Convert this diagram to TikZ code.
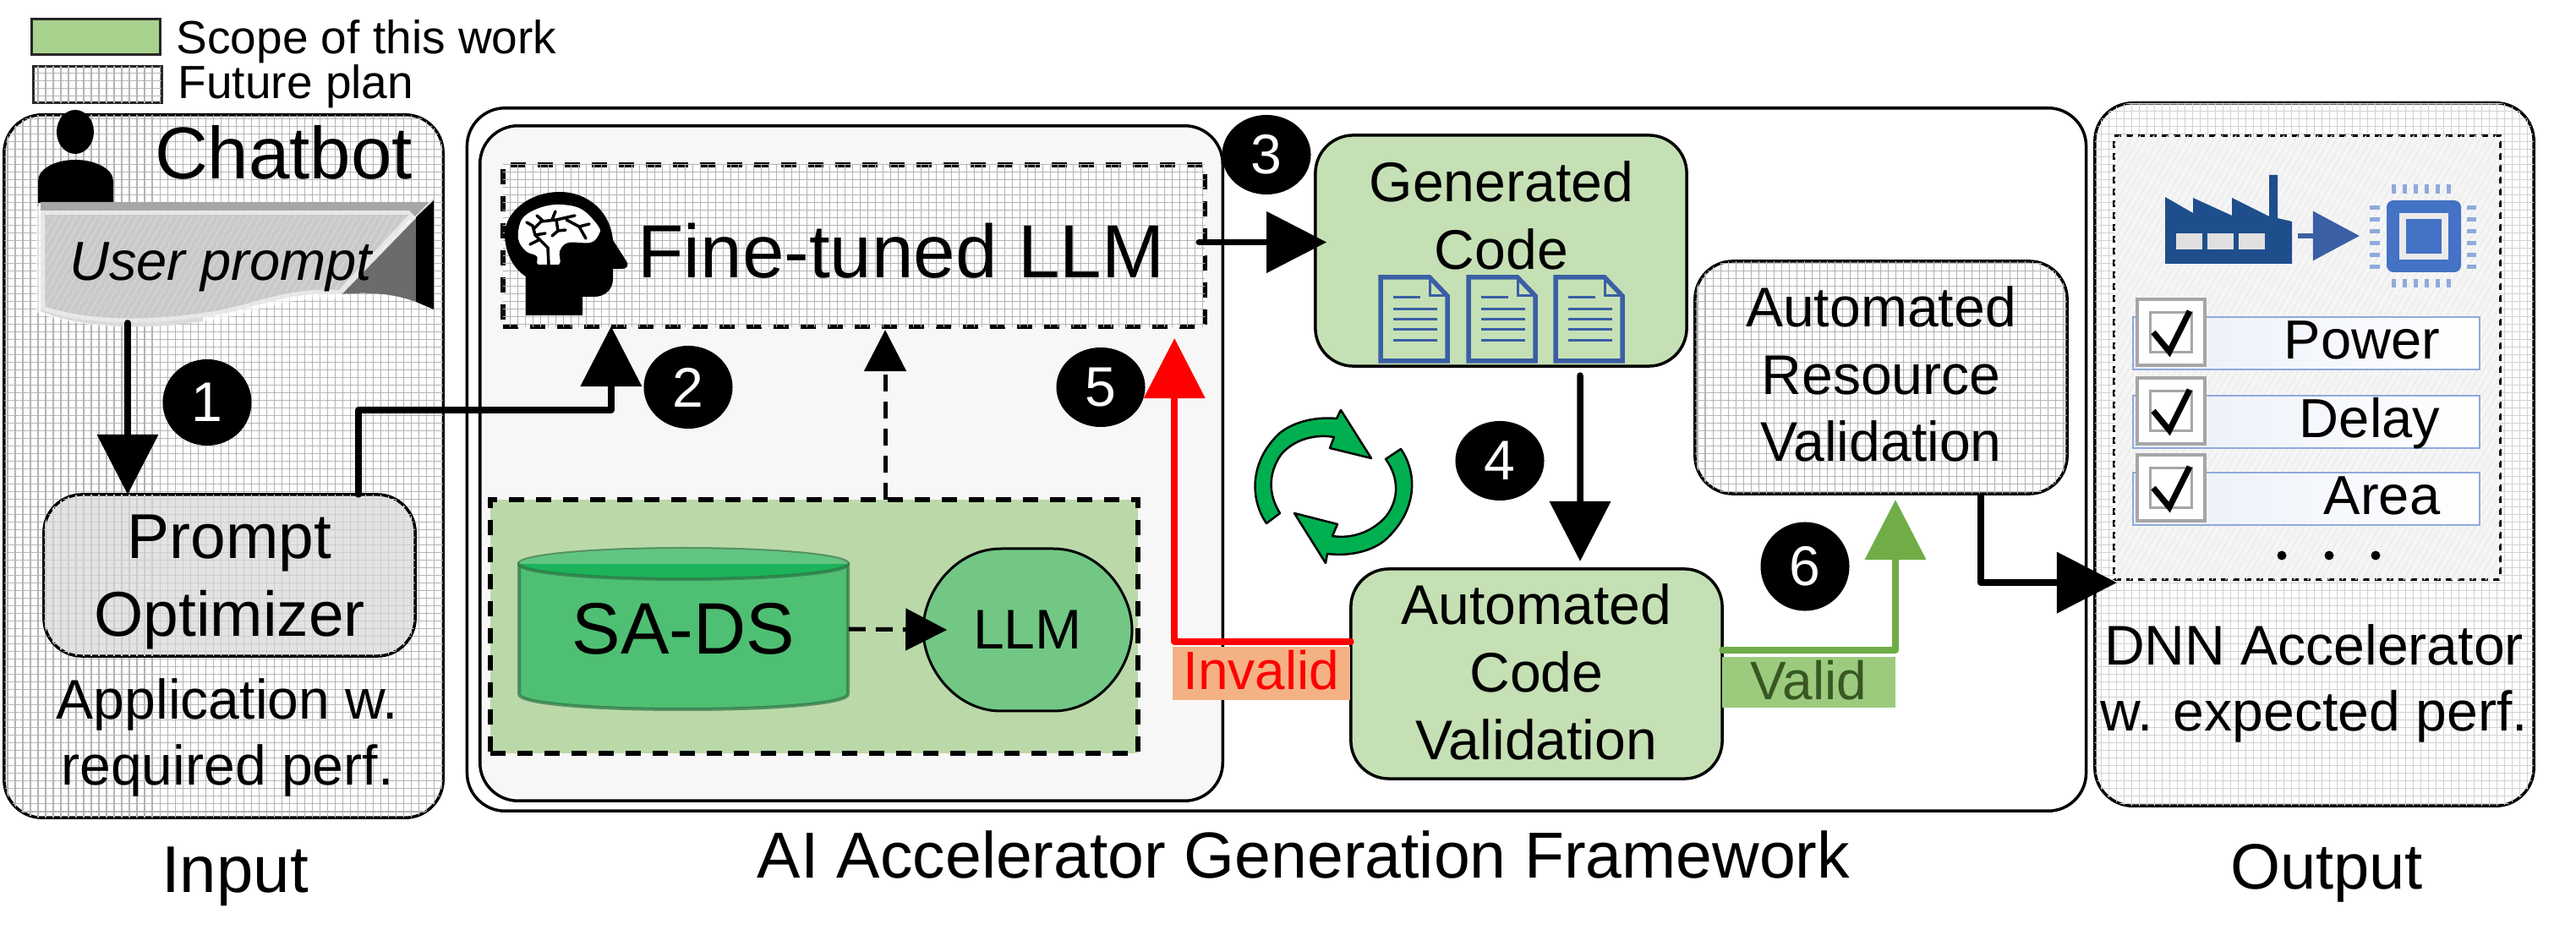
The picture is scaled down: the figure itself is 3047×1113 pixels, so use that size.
\documentclass[tikz,border=0pt]{standalone}
\usepackage{fontspec}
\setmainfont{Liberation Sans}
\usetikzlibrary{arrows.meta,patterns.meta,shapes.geometric}

\definecolor{scopegreen}{HTML}{C5E0B4}
\definecolor{legendgreen}{HTML}{A9D18E}
\definecolor{panelgreen}{HTML}{BBD9A8}
\definecolor{cylgreen}{HTML}{4FBF74}
\definecolor{cyldark}{HTML}{1DB35A}
\definecolor{llmgreen}{HTML}{72C785}
\definecolor{loopgreen}{HTML}{00B050}
\definecolor{okgreen}{HTML}{70AD47}
\definecolor{okfill}{HTML}{9CCB7E}
\definecolor{oktext}{HTML}{385723}
\definecolor{badfill}{HTML}{F4B183}
\definecolor{docblue}{HTML}{3A5FA5}
\definecolor{factoryblue}{HTML}{1F4E8C}
\definecolor{chipblue}{HTML}{4472C4}
\definecolor{pinblue}{HTML}{8FAADC}
\definecolor{gridgray}{HTML}{B4B4B4}
\definecolor{gridpale}{HTML}{D2D2D2}

\tikzset{
    gridfill/.style={postaction={pattern={Hatch[angle=0,distance=0.09cm,line width=0.012cm]},pattern color=#1}},
    gridfill/.default=gridgray,
    hatchfill/.style={postaction={pattern={Lines[angle=60,distance=0.07cm,line width=0.012cm]},pattern color=#1}},
    roundbox/.style={draw=black,line width=0.035cm,rounded corners=0.45cm,inner sep=0pt,outer sep=0pt,align=center},
    dashbox/.style={draw=black,line width=0.06cm,dash pattern=on 0.18cm off 0.14cm,inner sep=0pt,outer sep=0pt},
    flow/.style={line width=0.075cm,line join=round,line cap=round,-{Triangle[length=0.71cm,width=0.71cm]}},
    dashflow/.style={line width=0.05cm,dash pattern=on 0.2cm off 0.12cm,-{Triangle[length=0.49cm,width=0.49cm]}},
    badge/.style={ellipse,fill=black,text=white,inner sep=0pt,minimum width=1.05cm,font=\fontsize{18.8}{22}\selectfont},
    lbl/.style={inner sep=0pt,anchor=base},
    body/.style={font=\fontsize{18.8}{22.6}\selectfont},
}

\begin{document}
\begin{tikzpicture}[x=0.01cm,y=-0.01cm]
    \useasboundingbox (0,0) rectangle (3047,1113);

    \node[draw=black!85,line width=0.03cm,fill=legendgreen,minimum width=1.51cm,minimum height=0.42cm,inner sep=0pt] (legscope) at (113.5,43.5) {};
    \node[draw=black!85,line width=0.03cm,fill=white,gridfill,minimum width=1.51cm,minimum height=0.42cm,inner sep=0pt] (legplan) at (115.5,100) {};
    \node[lbl,anchor=base west,font=\fontsize{15.65}{18}\selectfont] (legscopetxt) at (208,64) {Scope of this work};
    \node[lbl,anchor=base west,font=\fontsize{15.65}{18}\selectfont] (legplantxt) at (210,117) {Future plan};

    \node[roundbox,fill=white,gridfill,minimum width=5.19cm,minimum height=8.31cm] (chatbot) at (264.5,551.5) {};
    \node[roundbox,fill=white,minimum width=19.14cm,minimum height=8.31cm] (framework) at (1510,543.5) {};
    \node[roundbox,fill=black!3,minimum width=8.78cm,minimum height=7.98cm] (llmpanel) at (1007,548) {};
    \node[roundbox,fill=white,gridfill=gridpale,minimum width=5.19cm,minimum height=8.31cm] (output) at (2737.5,537.5) {};

    \fill[black] (89,156) ellipse[x radius=22,y radius=26];
    \fill[black] (45,240) -- (45,214) .. controls (45,200) and (65,189) .. (89,189) .. controls (113,189) and (134,200) .. (134,214) -- (134,240) -- cycle;
    \node[lbl,font=\fontsize{24.75}{28}\selectfont] (chatbottxt) at (335.5,212) {Chatbot};

    \fill[black!35] (48,368) .. controls (90,386) and (160,392) .. (240,380) -- (240,360) -- (48,360) -- cycle;
    \path[fill=black!21,draw=white,draw opacity=.6,line width=0.1cm,hatchfill=black!12] (48,249) -- (495,249) -- (403,348) .. controls (340,345) and (310,362) .. (260,372) .. controls (180,386) and (100,385) .. (48,366) -- cycle;
    \fill[black!35] (48,239) -- (510,239) -- (492,257) -- (484,249) -- (48,249) -- cycle;
    \fill[black!58] (403,348) -- (492,257) -- (492,357) .. controls (465,347) and (435,345) .. (403,348) -- cycle;
    \draw[black!10,line width=0.02cm] (403,348) -- (513,235);
    \fill[black] (492,257) -- (513,237) -- (513,366) -- (492,357) -- cycle;
    \node[lbl,font=\fontsize{18.5}{22}\selectfont\itshape] (usertxt) at (261,332) {User prompt};
    \coordinate (bannerfoot) at (151,382);

    \node[roundbox,fill=black!11,gridfill=black!20,minimum width=4.39cm,minimum height=1.91cm,text depth=0pt,font=\fontsize{21.3}{26.2}\selectfont] (prompt) at (271.5,680.5) {Prompt\\Optimizer};
    \node[lbl,align=center,anchor=center,font=\fontsize{18.8}{22.2}\selectfont] (apptxt) at (269,872) {Application w.\\required perf.};

    \node[dashbox,fill=white,gridfill,minimum width=8.3cm,minimum height=1.91cm] (finetuned) at (1010,290.5) {};
    \fill[black] (622,373) -- (689,373) -- (689,351) -- (703,351) .. controls (716,351) and (725,342) .. (725,330) -- (725,318) -- (736,318) .. controls (742,318) and (744,313) .. (741,309) -- (725,284) .. controls (722,250) and (695,227) .. (662,227) .. controls (625,227) and (597,252) .. (597,277) .. controls (597,298) and (607,318) .. (622,327) -- cycle;
    \fill[white] plot[smooth cycle,tension=.6] coordinates {(637,313) (635,303) (622,297) (613,282) (617,260) (633,248) (658,242) (687,247) (708,268) (708,278) (698,287) (672,287) (662,297) (661,313)};
    \fill[black] (625,313) rectangle (690,325);
    \draw[line width=0.035cm,line cap=round,line join=round] (649,313) -- (648,293) -- (633,278) -- (630,267) -- (623,263) (633,278) -- (645,276) (627,289) -- (637,284) (632,270) -- (640,262) -- (658,260) -- (680,255) (635,255) -- (642,261) (657,250) -- (653,260) (658,260) -- (660,273) -- (653,279) (660,273) -- (669,272) (670,260) -- (685,268) -- (693,282) (685,268) -- (697,265);
    \node[lbl,font=\fontsize{25.3}{29}\selectfont] (finetunedtxt) at (1066,329) {Fine-tuned LLM};

    \node[dashbox,fill=panelgreen,minimum width=7.66cm,minimum height=3cm] (sapanel) at (963,741) {};
    \path[fill=cylgreen,draw=black!40!cylgreen,draw opacity=.7,line width=0.04cm] (614,667) -- (614,821) .. controls (614,832) and (700,839) .. (808,839) .. controls (916,839) and (1003,832) .. (1003,821) -- (1003,667) -- cycle;
    \path[fill=cyldark,draw=black!40!cylgreen,draw opacity=.7,line width=0.04cm] (614,667) .. controls (614,677) and (700,685) .. (808,685) .. controls (916,685) and (1003,677) .. (1003,667) .. controls (1003,657) and (916,649) .. (808,649) .. controls (700,649) and (614,657) .. (614,667) -- cycle;
    \fill[cylgreen!90!white] (614,667) .. controls (614,657) and (700,649) .. (808,649) .. controls (916,649) and (1003,657) .. (1003,667) -- cycle;
    \node[inner sep=0pt,minimum width=3.89cm,minimum height=1.54cm,font=\fontsize{24.5}{28}\selectfont] (sads) at (808.5,744) {SA-DS};
    \draw[fill=llmgreen,line width=0.03cm] (1184,649) -- (1246,649) .. controls (1300,649) and (1339,700) .. (1339,745) .. controls (1339,790) and (1300,841) .. (1246,841) -- (1184,841) .. controls (1130,841) and (1092,790) .. (1092,745) .. controls (1092,700) and (1130,649) .. (1184,649) -- cycle;
    \node[inner sep=0pt,minimum width=2.47cm,minimum height=1.92cm,font=\fontsize{18.8}{22}\selectfont] (llm) at (1215.5,745) {LLM};

    \node[roundbox,fill=scopegreen,minimum width=4.39cm,minimum height=2.73cm] (generated) at (1775.5,296.5) {};
    \node[lbl,align=center,anchor=north,body] (generatedtxt) at (1776,190) {Generated\\Code};
    \foreach \dx in {1633,1737,1840} {
        \draw[docblue,line width=0.055cm,line join=miter] (\dx,328) -- (\dx+58,328) -- (\dx+79,350) -- (\dx+79,427) -- (\dx,427) -- cycle;
        \draw[docblue,line width=0.03cm] (\dx+58,328) -- (\dx+58,350) -- (\dx+79,350);
        \draw[docblue,line width=0.03cm] (\dx+15,352) -- (\dx+47,352);
        \foreach \ly in {366,378,390,403}
        \draw[docblue,line width=0.03cm] (\dx+15,\ly) -- (\dx+67,\ly);
    }

    \node[roundbox,fill=scopegreen,minimum width=4.39cm,minimum height=2.48cm,text depth=0.05cm,font=\fontsize{18.8}{22.8}\selectfont] (codeval) at (1817.5,797) {Automated\\Code\\Validation};
    \node[roundbox,fill=white,gridfill,minimum width=4.4cm,minimum height=2.75cm,text depth=0.08cm,font=\fontsize{18.8}{22.6}\selectfont] (resource) at (2225,446.5) {Automated\\Resource\\Validation};

    \draw[fill=loopgreen,line width=0.025cm,line join=round] (1498,619) .. controls (1478,590) and (1478,545) .. (1514,512) .. controls (1533,497) and (1560,493) .. (1581,495) -- (1586,485) -- (1622,542) -- (1573,530) -- (1578,517) .. controls (1555,513) and (1530,520) .. (1515,538) .. controls (1500,560) and (1500,585) .. (1514,607) -- cycle;
    \draw[fill=loopgreen,line width=0.025cm,line join=round] (1657,531) .. controls (1677,560) and (1677,605) .. (1637,640) .. controls (1620,653) and (1595,658) .. (1570,655) -- (1568,666) -- (1531,607) -- (1582,620) -- (1576,634) .. controls (1600,638) and (1625,628) .. (1640,610) .. controls (1655,590) and (1655,565) .. (1639,543) -- cycle;

    \node[fill=badfill,inner sep=0pt,minimum width=2.1cm,minimum height=0.63cm,text depth=0.08cm,text=red,font=\fontsize{18.2}{22}\selectfont] (invalid) at (1492,796.5) {Invalid};
    \node[fill=okfill,inner sep=0pt,minimum width=2.05cm,minimum height=0.6cm,text depth=0.06cm,text=oktext,font=\fontsize{18.2}{22}\selectfont] (valid) at (2139.5,807) {Valid};

    \node[dashbox,line width=0.03cm,dash pattern=on 0.08cm off 0.06cm,fill=black!4,hatchfill=black!8,minimum width=4.56cm,minimum height=5.24cm] (outdash) at (2729,423) {};

    \fill[factoryblue] (2561,312) -- (2561,233) -- (2594,252) -- (2594,234) -- (2640,255) -- (2640,234) -- (2684,256) -- (2684,207) -- (2694,207) -- (2694,258) -- (2711,262) -- (2711,312) -- cycle;
    \foreach \wx in {2574,2611,2648}
    \fill[black!12] (\wx,276) rectangle (\wx+31,295);
    \draw[docblue,line width=0.06cm,-{Triangle[length=0.55cm,width=0.57cm]}] (2718,279) -- (2791,279);
    \foreach \p in {0,1,...,5} {
        \fill[pinblue] (2829+\p*13,218) rectangle (2834+\p*13,229);
        \fill[pinblue] (2829+\p*13,330) rectangle (2834+\p*13,340);
        \fill[pinblue] (2803,243+\p*14) rectangle (2815,248+\p*14);
        \fill[pinblue] (2918,243+\p*14) rectangle (2929,248+\p*14);
    }
    \fill[chipblue,rounded corners=0.08cm] (2823,237) rectangle (2911,322);
    \fill[black!8] (2838,252) rectangle (2896,307);
    \fill[chipblue] (2846,259) rectangle (2888,300);

    \foreach \nm/\ry/\txt/\by in {power/375/Power/425,delay/468/Delay/518,area/559/Area/609} {
        \node[draw=pinblue,line width=0.015cm,left color=chipblue!12,right color=white,minimum width=4.1cm,minimum height=0.62cm,inner sep=0pt] (row\nm) at (2728,\ry+31) {};
        \node[lbl,anchor=base east,font=\fontsize{18.5}{22}\selectfont] (txt\nm) at (2887,\by) {\txt};
        \node[draw=black!35,line width=0.035cm,fill=white,minimum width=0.8cm,minimum height=0.78cm,inner sep=0pt] (box\nm) at (2568,\ry+18) {};
        \node[draw=black!35,line width=0.035cm,fill=white,minimum width=0.49cm,minimum height=0.47cm,inner sep=0pt] (tick\nm) at (2568,\ry+18) {};
        \draw[line width=0.07cm,line join=miter] (2547,\ry+18) -- (2566,\ry+41) -- (2590,\ry-7);
    }
    \foreach \dotx in {2699,2755,2810}
    \fill[black] (\dotx,657) circle (0.055cm);

    \node[lbl,align=center,anchor=center,font=\fontsize{18.8}{22.2}\selectfont] (dnntxt) at (2737,808) {DNN Accelerator\\w. expected perf.};

    \foreach \n/\cx/\cy/\h in {1/245/476/1.02cm,2/814/458/0.98cm,3/1498/183/0.94cm,4/1774/545/0.94cm,5/1302/458/0.94cm,6/2135/670/1.05cm}
    \node[badge,minimum height=\h] (badge\n) at (\cx,\cy) {\n};

    \draw[flow] (bannerfoot) -- (bannerfoot |- prompt.north);
    \draw[flow] ([xshift=1.525cm]prompt.north) -- ++(0,-100) -| ([xshift=-2.87cm]finetuned.south);
    \draw[flow] (finetuned.east |- generated.west) ++(-7,-10) -- ++(151,0);
    \draw[flow] ([xshift=0.935cm,yshift=-0.11cm]generated.south) -- ([xshift=0.515cm,yshift=0.09cm]codeval.north);
    \draw[flow,red] ([yshift=0.38cm]codeval.west) -| ([xshift=3.79cm,yshift=-0.14cm]finetuned.south);
    \draw[flow,okgreen] ([yshift=0.28cm]codeval.east) -| ([xshift=0.17cm,yshift=-0.07cm]resource.south);
    \draw[flow] ([xshift=1.18cm,yshift=-0.03cm]resource.south) |- ([xshift=0.03cm,yshift=-0.04cm]outdash.south west);
    \draw[dashflow] (sads.east) -- ([xshift=0.29cm]llm.west);
    \draw[dashflow] ([xshift=0.84cm]sapanel.north) -- ([xshift=0.84cm,yshift=-0.04cm]sapanel.north |- finetuned.south);

    \node[lbl,font=\fontsize{22.2}{25}\selectfont] (inputtxt) at (278,1056) {Input};
    \node[lbl,font=\fontsize{21.9}{26}\selectfont] (frameworktxt) at (1542,1039) {AI Accelerator Generation Framework};
    \node[lbl,font=\fontsize{21.6}{25}\selectfont] (outputtxt) at (2752,1051) {Output};
\end{tikzpicture}
\end{document}
